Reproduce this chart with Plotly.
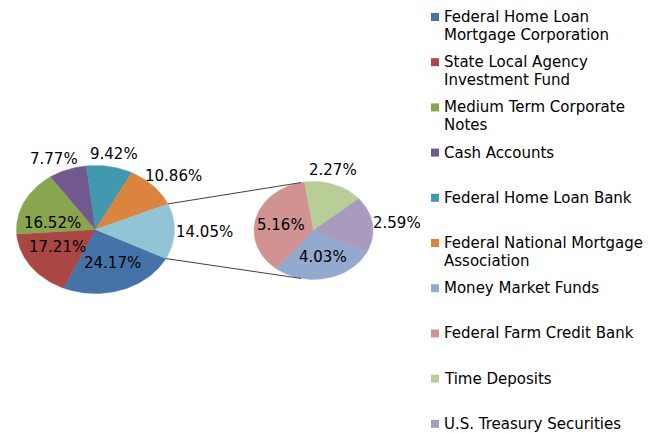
import math

import plotly.graph_objects as go

# Main pie, clockwise in legend order; the last slice ("Other") is broken out
main_labels = [
    "Federal Home Loan<br>Mortgage Corporation",
    "State Local Agency<br>Investment Fund",
    "Medium Term Corporate<br>Notes",
    "Cash Accounts",
    "Federal Home Loan Bank",
    "Federal National Mortgage<br>Association",
]
main_values = [24.17, 17.21, 16.52, 7.77, 9.42, 10.86]

# Second pie (breakdown of the "Other" slice)
other_labels = [
    "Money Market Funds",
    "Federal Farm Credit Bank",
    "Time Deposits",
    "U.S. Treasury Securities",
]
other_values = [4.03, 5.16, 2.27, 2.59]

main_colors = ["#4572A7", "#AA4643", "#89A54E", "#71588F", "#4198AF", "#DB843D"]
other_colors = ["#93A9CF", "#D19392", "#B9CD96", "#A99BBD"]
OTHER_SLICE_COLOR = "#92C4D6"

# label placement per slice (style only): inside/outside + small angle nudge
main_label_pos = ["in", "in", "in", "out", "out", "out", "out"]
main_label_nudge = [-3, 5, -15, -3, 0, -1, 0]
other_label_pos = ["in", "in", "out", "out"]
other_label_nudge = [-4, -3, -7, 0]

W, H = 656, 433
FONT = "DejaVu Sans"
FS = 15

# geometry in pixel units (axes map 1:1 to the page)
MAIN = dict(cx=95.5, cy=229.5, rx=79, ry=64, start=117)
SUB = dict(cx=313.5, cy=230.5, rx=59.5, ry=49, start=116)


def _pt(p, ang, r=1.0):
    a = math.radians(ang)
    return p["cx"] + p["rx"] * r * math.sin(a), p["cy"] - p["ry"] * r * math.cos(a)


def _wedge(p, a0, a1):
    n = max(int(abs(a1 - a0) / 1.5), 2)
    xs, ys = [p["cx"]], [p["cy"]]
    for k in range(n + 1):
        x, y = _pt(p, a0 + (a1 - a0) * k / n)
        xs.append(x)
        ys.append(y)
    xs.append(p["cx"])
    ys.append(p["cy"])
    return xs, ys


def _draw_pie(fig, p, values, colors, label_pos, nudges):
    total = sum(values)
    ang = p["start"]
    edges = []
    for v, c, pos, nd in zip(values, colors, label_pos, nudges):
        span = 360 * v / total
        xs, ys = _wedge(p, ang, ang + span)
        fig.add_trace(go.Scatter(
            x=xs, y=ys, mode="lines", fill="toself",
            fillcolor=c, line=dict(color=c, width=0.5),
            hoverinfo="skip", showlegend=False,
        ))
        mid = ang + span / 2 + nd
        text = f"{v:.2f}%"
        if pos == "in":
            lx, ly = _pt(p, mid, 0.56)
        else:
            ex, ey = _pt(p, mid, 1.0)
            w = 10 * len(text)
            a = math.radians(mid)
            lx = ex + math.sin(a) * (w / 2)
            ly = ey - math.cos(a) * 13
        fig.add_annotation(
            x=lx, y=ly, text=text, showarrow=False,
            font=dict(family=FONT, size=FS, color="#000000"),
            xanchor="center", yanchor="middle",
        )
        edges.append((ang, ang + span))
        ang += span
    return edges


fig = go.Figure()

main_edges = _draw_pie(
    fig, MAIN, main_values + [sum(other_values)],
    main_colors + [OTHER_SLICE_COLOR], main_label_pos, main_label_nudge,
)
_draw_pie(fig, SUB, other_values, other_colors, other_label_pos, other_label_nudge)

# connector lines from the broken-out slice to the second pie
o0, o1 = main_edges[-1]
for a_main, a_sub in [(o0, -12), (o1, 192)]:
    x0, y0 = _pt(MAIN, a_main)
    x1, y1 = _pt(SUB, a_sub)
    fig.add_trace(go.Scatter(
        x=[x0, x1], y=[y0, y1], mode="lines",
        line=dict(color="#404040", width=1),
        hoverinfo="skip", showlegend=False,
    ))

# legend, drawn by hand so each entry gets the same row height
legend_names = main_labels + other_labels
legend_colors = main_colors + other_colors
for i, (name, col) in enumerate(zip(legend_names, legend_colors)):
    yc = 17 + 45.2 * i
    fig.add_shape(
        type="rect", x0=431, x1=439, y0=yc - 4, y1=yc + 4,
        fillcolor=col, line=dict(width=0),
    )
    for j, line in enumerate(name.split("<br>")):
        fig.add_annotation(
            x=442, y=yc + 18 * j, text=line, showarrow=False,
            font=dict(family=FONT, size=FS, color="#000000"),
            xanchor="left", yanchor="middle",
        )

fig.update_layout(
    width=W, height=H,
    margin=dict(l=0, r=0, t=0, b=0),
    plot_bgcolor="white",
    paper_bgcolor="white",
    showlegend=False,
    xaxis=dict(range=[0, W], visible=False, fixedrange=True),
    yaxis=dict(range=[H, 0], visible=False, fixedrange=True),
)

fig.write_html(
    "out.html",
    config={"displayModeBar": False},
    post_script="document.body.style.margin='0';",
)
